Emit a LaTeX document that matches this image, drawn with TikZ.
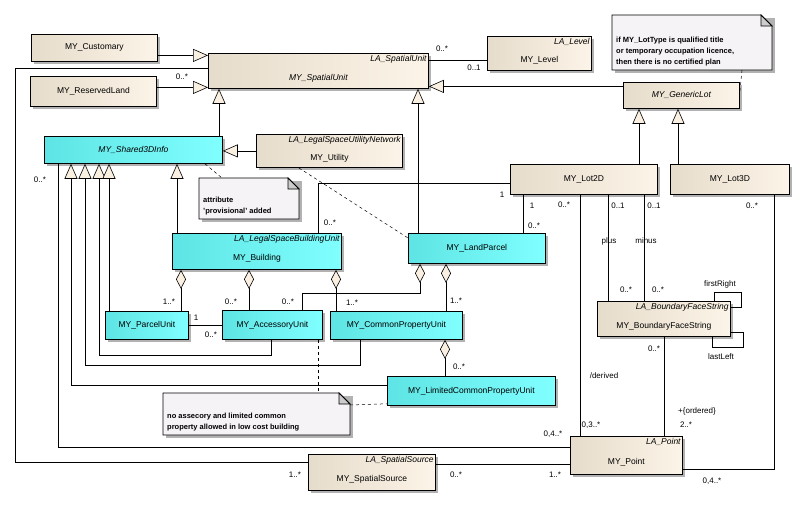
\documentclass[tikz,border=0pt]{standalone}
\usepackage{fontspec}
\setmainfont{Liberation Sans}
\usetikzlibrary{arrows.meta,shadows,calc}

\definecolor{tanL}{HTML}{E6DCCB}
\definecolor{tanR}{HTML}{FCF4E8}
\definecolor{cyanL}{HTML}{5EE4E4}
\definecolor{cyanR}{HTML}{80FFFF}
\definecolor{cream}{HTML}{FAF0E2}
\definecolor{notebg}{HTML}{F6F3F7}

\tikzset{
  cls/.style={draw, thick, anchor=north west, inner sep=0pt,
    drop shadow={shadow xshift=3pt, shadow yshift=-3pt, fill=black!30, opacity=1}},
  tanbox/.style={cls, left color=tanL, right color=tanR},
  cyanbox/.style={cls, left color=cyanL, right color=cyanR},
  ttl/.style={font=\fontsize{8.5}{10}\selectfont},
  stereo/.style={font=\fontsize{8.5}{10}\selectfont\itshape, anchor=north east, inner sep=2pt},
  mult/.style={font=\fontsize{8}{9}\selectfont, inner sep=0pt},
  notetxt/.style={font=\fontsize{7.5}{11}\selectfont\bfseries, align=left, anchor=south west, inner sep=4pt},
  gen/.style={-{Triangle[length=15pt,width=13pt,fill=cream]}, line width=0.6pt},
  agg/.style={{Diamond[length=19pt,width=10pt,fill=cream]}-, line width=0.6pt},
  assoc/.style={line width=0.6pt},
  notelink/.style={dashed, line width=0.5pt},
}

\newcommand{\notebox}[4]{% name, x, y, w/h
  \fill[black!30] (#2+3,#3+3) rectangle ++(#4);
  \path (#2,#3) rectangle ++(#4) coordinate (#1se);
  \coordinate (#1nw) at (#2,#3);
  \fill[notebg, draw=black, thick] (#1nw) -- ($(#1se|-#1nw)+(-11,0)$) -- ($(#1se|-#1nw)+(0,11)$) -- (#1se) -- (#1nw|-#1se) -- cycle;
  \fill[black!20, draw=black, thick] ($(#1se|-#1nw)+(-11,0)$) -- ($(#1se|-#1nw)+(-11,11)$) -- ($(#1se|-#1nw)+(0,11)$) -- cycle;
}

\begin{document}
\begin{tikzpicture}[x=1pt, y=-1pt]
  \useasboundingbox (0,0) rectangle (806,506);

  % classes
  \node[tanbox, minimum width=126pt, minimum height=27pt] (cust) at (31,34) {};
  \node[ttl] (custT) at (cust.center) {MY\_Customary};
  \node[tanbox, minimum width=126pt, minimum height=30pt] (res) at (30,76) {};
  \node[ttl] (resT) at (res.center) {MY\_ReservedLand};
  \node[tanbox, minimum width=220pt, minimum height=35pt] (su) at (208,53) {};
  \node[stereo] (suS) at (su.north east) {LA\_SpatialUnit};
  \node[ttl, font=\fontsize{8.5}{10}\selectfont\itshape] (suT) at ($(su.center)+(0,7)$) {MY\_SpatialUnit};
  \node[tanbox, minimum width=104pt, minimum height=34pt] (lvl) at (487,36) {};
  \node[stereo] (lvlS) at (lvl.north east) {LA\_Level};
  \node[ttl] (lvlT) at ($(lvl.center)+(0,7)$) {MY\_Level};
  \node[tanbox, minimum width=116pt, minimum height=26pt] (gen) at (623,82) {};
  \node[ttl, font=\fontsize{8.5}{10}\selectfont\itshape] (genT) at (gen.center) {MY\_GenericLot};
  \node[cyanbox, minimum width=178pt, minimum height=27pt] (sh) at (44,136) {};
  \node[ttl, font=\fontsize{8.5}{10}\selectfont\itshape] (shT) at (sh.center) {MY\_Shared3DInfo};
  \node[tanbox, minimum width=146pt, minimum height=33pt] (util) at (256,134) {};
  \node[stereo] (utilS) at (util.north east) {LA\_LegalSpaceUtilityNetwork};
  \node[ttl] (utilT) at ($(util.center)+(0,7)$) {MY\_Utility};
  \node[tanbox, minimum width=147pt, minimum height=30pt] (lot2) at (510,164) {};
  \node[ttl] (lot2T) at (lot2.center) {MY\_Lot2D};
  \node[tanbox, minimum width=119pt, minimum height=30pt] (lot3) at (670,164) {};
  \node[ttl] (lot3T) at (lot3.center) {MY\_Lot3D};
  \node[cyanbox, minimum width=169pt, minimum height=36pt] (bld) at (172,233) {};
  \node[stereo] (bldS) at (bld.north east) {LA\_LegalSpaceBuildingUnit};
  \node[ttl] (bldT) at ($(bld.center)+(0,7)$) {MY\_Building};
  \node[cyanbox, minimum width=137pt, minimum height=30pt] (lp) at (408,233) {};
  \node[ttl] (lpT) at (lp.center) {MY\_LandParcel};
  \node[cyanbox, minimum width=83pt, minimum height=28pt] (pu) at (105,311) {};
  \node[ttl] (puT) at (pu.center) {MY\_ParcelUnit};
  \node[cyanbox, minimum width=100pt, minimum height=29pt] (au) at (222,310) {};
  \node[ttl] (auT) at (au.center) {MY\_AccessoryUnit};
  \node[cyanbox, minimum width=132pt, minimum height=28pt] (cpu) at (330,311) {};
  \node[ttl] (cpuT) at (cpu.center) {MY\_CommonPropertyUnit};
  \node[cyanbox, minimum width=168pt, minimum height=29pt] (lcpu) at (387,376) {};
  \node[ttl] (lcpuT) at (lcpu.center) {MY\_LimitedCommonPropertyUnit};
  \node[tanbox, minimum width=127pt, minimum height=36pt] (ss) at (308,454) {};
  \node[stereo] (ssS) at (ss.north east) {LA\_SpatialSource};
  \node[ttl] (ssT) at ($(ss.center)+(0,7)$) {MY\_SpatialSource};
  \node[tanbox, minimum width=133pt, minimum height=35pt] (bfs) at (597,301) {};
  \node[stereo] (bfsS) at (bfs.north east) {LA\_BoundaryFaceString};
  \node[ttl] (bfsT) at ($(bfs.center)+(0,7)$) {MY\_BoundaryFaceString};
  \node[tanbox, minimum width=112pt, minimum height=38pt] (pt) at (570,436) {};
  \node[stereo] (ptS) at (pt.north east) {LA\_Point};
  \node[ttl] (ptT) at ($(pt.center)+(0,7)$) {MY\_Point};

  % notes
  \notebox{nA}{612}{15}{160,55}
  \node[notetxt] (nAT) at (nAnw|-nAse) {if MY\_LotType is qualified title\\or temporary occupation licence,\\then there is no certified plan};
  \notebox{nB}{199}{178}{100,41}
  \node[notetxt] (nBT) at (nBnw|-nBse) {attribute\\'provisional' added};
  \notebox{nC}{163}{393}{187,42}
  \node[notetxt] (nCT) at (nCnw|-nCse) {no assecory and limited common\\property allowed in low cost building};

  % generalisations
  \draw[gen] ([yshift=-7.5pt]cust.east) -- ([yshift=-7.5pt]cust.east -| su.west);
  \draw[gen] ([yshift=4pt]res.east) -- ([yshift=4pt]res.east -| su.west);
  \draw[gen] ([xshift=175pt]sh.north west) -- ([xshift=175pt]sh.north west |- su.south);
  \draw[gen] (util.west) -- (util.west -| sh.east);
  \draw[gen] ([xshift=10pt]lp.north west) -- ([xshift=10pt]lp.north west |- su.south);
  \draw[gen] ([yshift=9pt]gen.west) -- ([yshift=9pt]gen.west -| su.east);
  \draw[gen] ([xshift=129pt]lot2.north west) -- ([xshift=129pt]lot2.north west |- gen.south);
  \draw[gen] ([xshift=8pt]lot3.north west) -- ([xshift=8pt]lot3.north west |- gen.south);
  \draw[gen] ([yshift=5.5pt]lcpu.west) -| ([xshift=27pt]sh.south west);
  \draw[gen] ([xshift=30pt]cpu.south west) -- ++(0,25) -| ([xshift=41pt]sh.south west);
  \draw[gen] ([xshift=49pt]au.south west) -- ++(0,15) -| ([xshift=55pt]sh.south west);
  \draw[gen] ([xshift=4pt]pu.north west) -- ([xshift=4pt]pu.north west |- sh.south);
  \draw[gen] ([xshift=5pt]bld.north west) -- ([xshift=5pt]bld.north west |- sh.south);

  % aggregations
  \draw[agg] ([xshift=9pt]bld.south west) -- ([xshift=9pt]bld.south west |- pu.north);
  \draw[agg] ([xshift=77pt]bld.south west) -- ([xshift=77pt]bld.south west |- au.north);
  \draw[agg] ([xshift=164pt]bld.south west) -- ([xshift=164pt]bld.south west |- cpu.north);
  \draw[agg] ([xshift=12pt]lp.south west) -- ++(0,29) -| ([xshift=80pt]au.north west);
  \draw[agg] ([xshift=38pt]lp.south west) -- ([xshift=38pt]lp.south west |- cpu.north);
  \draw[agg] ([xshift=115pt]cpu.south west) -- ([xshift=115pt]cpu.south west |- lcpu.north);

  % associations
  \draw[assoc] ([yshift=-7pt]su.north east) -- ([yshift=-7pt]su.north east -| lvl.west);
  \draw[assoc] ([xshift=14pt]sh.south west) |- ([yshift=-11pt]pt.north west);
  \draw[assoc] ([yshift=-15pt]su.north west) -- ++(-193,0) |- ([yshift=-8pt]ss.north west);
  \draw[assoc] ([yshift=-10pt]ss.north east) -- ([yshift=-10pt]ss.north east -| pt.west);
  \draw[assoc] ([yshift=-19pt]lot2.north west) -| ([xshift=146pt]bld.north west);
  \draw[assoc] ([xshift=13pt]lot2.south west) -- ([xshift=13pt]lot2.south west |- lp.north);
  \draw[assoc] ([xshift=70pt]lot2.south west) -- ([xshift=70pt]lot2.south west |- pt.north);
  \draw[assoc] ([xshift=98pt]lot2.south west) -- ([xshift=98pt]lot2.south west |- bfs.north);
  \draw[assoc] ([xshift=134pt]lot2.south west) -- ([xshift=134pt]lot2.south west |- bfs.north);
  \draw[assoc] ([xshift=104pt]lot3.south west) |- ([yshift=-33pt]pt.north east);
  \draw[assoc] ([xshift=67pt]bfs.south west) -- ([xshift=67pt]bfs.south west |- pt.north);
  \draw[assoc] ([xshift=-17pt]bfs.north east) -- ++(0,-9) -- ++(27,0) -- ++(0,15) -- ++(-10,0);
  \draw[assoc] ([xshift=-19pt]bfs.south east) -- ++(0,10) -- ++(31,0) -- ++(0,-15) -- ++(-12,0);
  \draw[assoc] (pu.east) -- (pu.east -| au.west);

  % note links
  \draw[notelink] ([xshift=161pt]sh.south west) -- ([xshift=23pt]nBnw);
  \draw[notelink] ([yshift=10pt]nBse|-nBnw) -- ([yshift=-5pt]lp.north west);
  \draw[notelink] ([xshift=96pt]au.south west) -- ([xshift=96pt]au.south west |- nCnw);
  \draw[notelink] ($(nCse|-nCnw)+(0,12)$) -- ([yshift=2pt]lcpu.south west);
  \draw[notelink] ($(nAnw|-nAse)+(130,0)$) -- ([yshift=-10pt]gen.north east);

  % multiplicities and role names
  \node[mult] (m1) at (442,49) {0..*};
  \node[mult] (m2) at (474,68) {0..1};
  \node[mult] (m3) at (182,77) {0..*};
  \node[mult] (m4) at (40,180) {0..*};
  \node[mult] (m5) at (502,195) {1};
  \node[mult] (m6) at (330,223) {0..*};
  \node[mult] (m7) at (532,206) {1};
  \node[mult] (m8) at (534,226) {0..*};
  \node[mult] (m9) at (564,205) {0..*};
  \node[mult] (m10) at (618,206) {0..1};
  \node[mult] (m11) at (654,206) {0..1};
  \node[mult] (m12) at (752,206) {0..*};
  \node[mult] (r1) at (609,241) {plus};
  \node[mult] (r2) at (646,241) {minus};
  \node[mult] (m13) at (626,290) {0..*};
  \node[mult] (m14) at (658,290) {0..*};
  \node[mult] (r3) at (720,284) {firstRight};
  \node[mult] (r4) at (721,357) {lastLeft};
  \node[mult] (m15) at (654,349) {0..*};
  \node[mult] (r5) at (604,376) {/derived};
  \node[mult] (r6) at (697,411) {+\{ordered\}};
  \node[mult] (m16) at (686,425) {2..*};
  \node[mult] (m17) at (591,425) {0,3..*};
  \node[mult] (m18) at (553,434) {0,4..*};
  \node[mult] (m19) at (712,481) {0,4..*};
  \node[mult] (m20) at (555,475) {1..*};
  \node[mult] (m21) at (456,475) {0..*};
  \node[mult] (m22) at (295,475) {1..*};
  \node[mult] (m23) at (169,302) {1..*};
  \node[mult] (m24) at (231,302) {0..*};
  \node[mult] (m25) at (288,302) {0..*};
  \node[mult] (m26) at (352,303) {1..*};
  \node[mult] (m27) at (456,301) {1..*};
  \node[mult] (m28) at (459,367) {0..*};
  \node[mult] (m29) at (196,318) {1};
  \node[mult] (m30) at (211,335) {0..*};
\end{tikzpicture}
\end{document}
